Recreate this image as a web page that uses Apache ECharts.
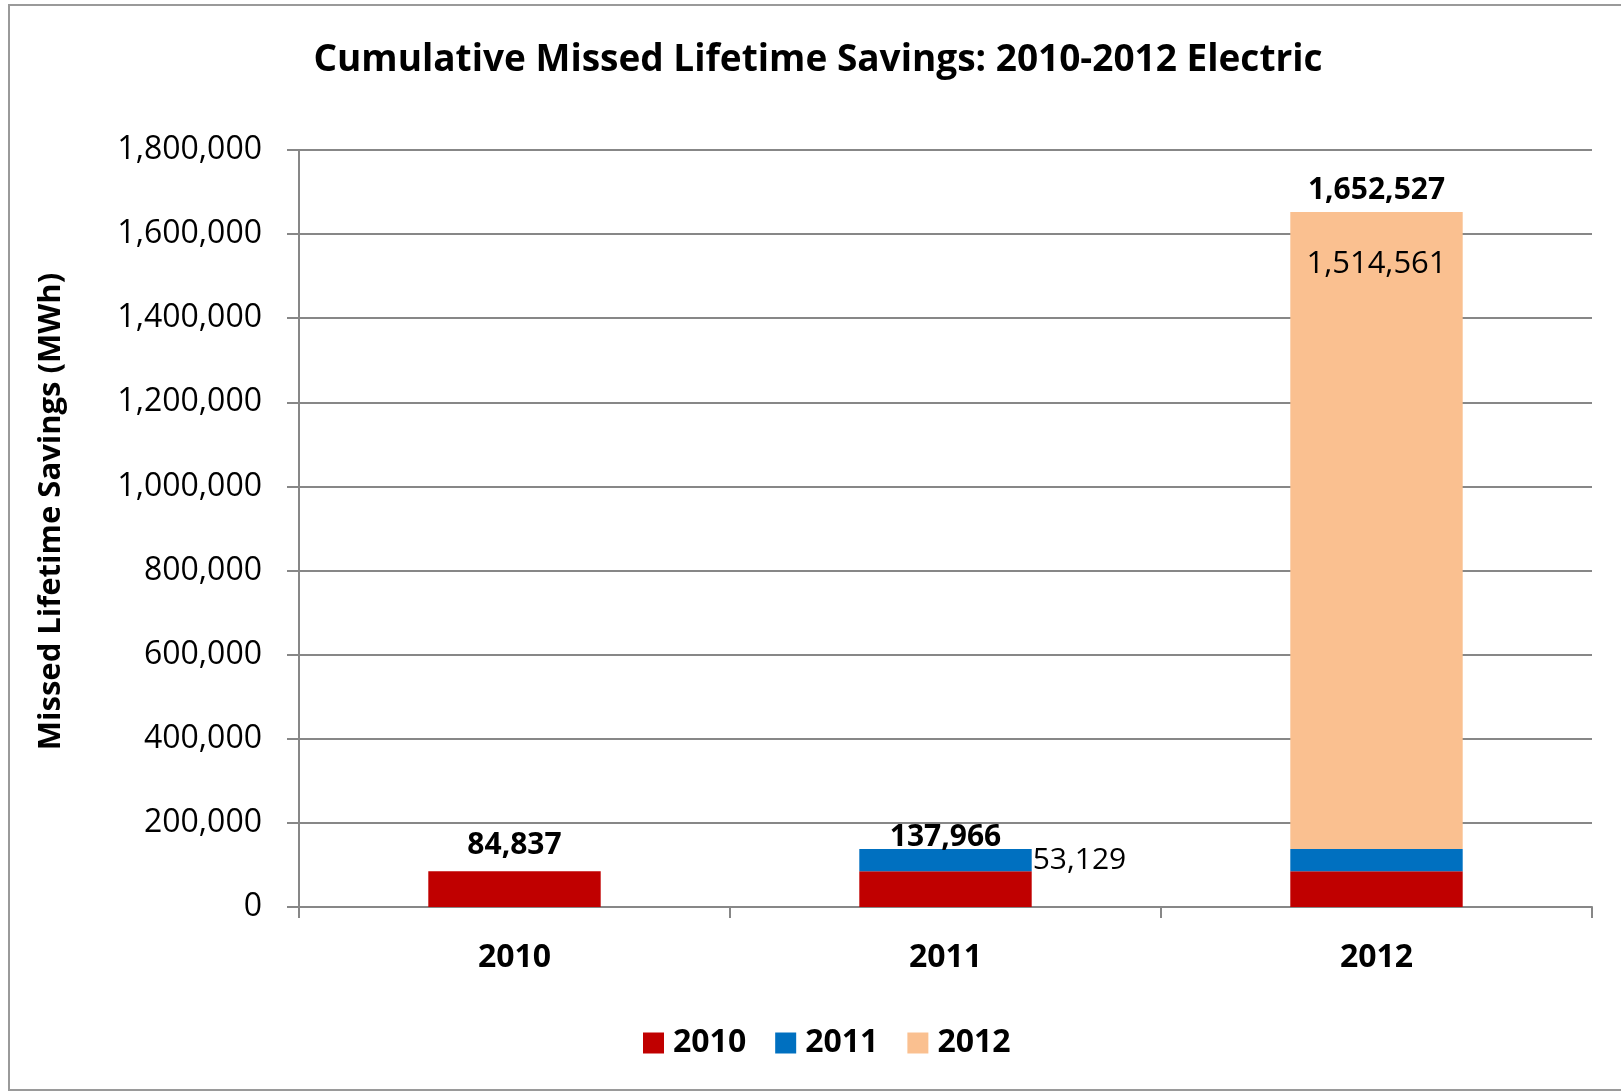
<!DOCTYPE html>
<html>
<head>
<meta charset="utf-8">
<script src="https://cdn.jsdelivr.net/npm/echarts/dist/echarts.min.js"></script>
<style>
html,body{margin:0;padding:0;background:#fff;}
#chart{width:1621px;height:1092px;}
</style>
</head>
<body>
<div id="chart"></div>
<script>
const categories = ['2010', '2011', '2012'];
const seriesNames = ['2010', '2011', '2012'];
const s2010 = [84837, 84837, 84837];
const s2011 = [null, 53129, 53129];
const s2012 = [null, null, 1514561];
const yMin = 0, yMax = 1800000, yInterval = 200000;
const colors = ['#C00000', '#0070C0', '#FAC090'];

const totals = categories.map((_, i) => (s2010[i] || 0) + (s2011[i] || 0) + (s2012[i] || 0));
const fmt = v => Number(v).toLocaleString('en-US');
const FONT = "'Open Sans', 'Liberation Sans', sans-serif";
const GRAY = '#878787';

const chart = echarts.init(document.getElementById('chart'));
chart.setOption({
  backgroundColor: '#fff',
  animation: false,
  title: {
    text: 'Cumulative Missed Lifetime Savings: 2010-2012 Electric',
    left: 818,
    textAlign: 'center',
    top: 42,
    padding: 0,
    textStyle: { fontFamily: FONT, fontSize: 37, fontWeight: 'bold', color: '#000' }
  },
  graphic: [{
    type: 'rect',
    shape: { x: 9, y: 5, width: 1640, height: 1085 },
    style: { fill: 'none', stroke: '#9a9a9a', lineWidth: 2 },
    silent: true
  }],
  legend: {
    data: seriesNames,
    left: 638,
    top: 1022,
    icon: 'rect',
    itemWidth: 21,
    itemHeight: 21,
    itemGap: 29,
    textStyle: { fontFamily: FONT, fontSize: 32, fontWeight: 'bold', color: '#000', padding: [0, 0, 0, 4] }
  },
  grid: { left: 299, right: 29, top: 150, bottom: 185 },
  xAxis: {
    type: 'category',
    data: categories,
    axisLine: { lineStyle: { color: GRAY, width: 2 } },
    axisTick: { show: true, length: 11, lineStyle: { color: GRAY, width: 2 } },
    axisLabel: { margin: 51, verticalAlign: 'middle', fontFamily: FONT, fontSize: 32, fontWeight: 'bold', color: '#000' }
  },
  yAxis: {
    type: 'value',
    min: yMin, max: yMax, interval: yInterval,
    name: 'Missed Lifetime Savings (MWh)',
    nameLocation: 'middle',
    nameGap: 232,
    nameRotate: 90,
    nameTextStyle: { fontFamily: FONT, fontSize: 31, fontWeight: 'bold', color: '#000', padding: [0, 0, 0, 34] },
    axisLine: { show: true, lineStyle: { color: GRAY, width: 2 } },
    axisTick: { show: true, length: 12, lineStyle: { color: GRAY, width: 2 } },
    splitLine: { lineStyle: { color: GRAY, width: 2 } },
    axisLabel: { margin: 37, fontFamily: FONT, fontSize: 32, color: '#000', formatter: v => fmt(v) }
  },
  series: [
    {
      name: seriesNames[0], type: 'bar', stack: 'total', data: s2010,
      barCategoryGap: '60%', itemStyle: { color: colors[0] }
    },
    {
      name: seriesNames[1], type: 'bar', stack: 'total',
      data: s2011.map((v, i) => i === 1 ? {
        value: v,
        label: { show: true, position: 'right', distance: 1, fontFamily: FONT, fontSize: 30, color: '#000', formatter: p => fmt(p.value) }
      } : v),
      itemStyle: { color: colors[1] }
    },
    {
      name: seriesNames[2], type: 'bar', stack: 'total',
      data: s2012.map((v, i) => i === 2 ? {
        value: v,
        label: { show: true, position: ['50%', 52], align: 'center', verticalAlign: 'middle', fontFamily: FONT, fontSize: 31, color: '#000', formatter: p => fmt(p.value) }
      } : v),
      itemStyle: { color: colors[2] }
    },
    {
      name: 'Total', type: 'scatter', symbolSize: 0, silent: true,
      itemStyle: { opacity: 1 },
      data: totals.map((v, i) => ({
        value: v,
        label: { distance: [11, -3, 7][i] }
      })),
      label: {
        show: true, position: 'top',
        fontFamily: FONT, fontSize: 30, fontWeight: 'bold', color: '#000',
        formatter: p => fmt(p.value)
      },
      z: 5
    }
  ]
});
</script>
</body>
</html>
